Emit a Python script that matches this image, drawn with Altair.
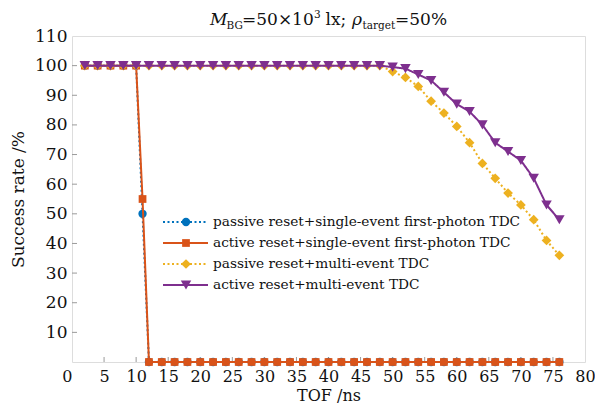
import altair as alt
import pandas as pd

# ---------------- data ----------------
tof_single = [2, 4, 6, 8, 10, 11, 12, 14, 16, 18, 20, 22, 24, 26, 28, 30, 32, 34, 36, 38,
              40, 42, 44, 46, 48, 50, 52, 54, 56, 58, 60, 62, 64, 66, 68, 70, 72, 74, 76]
passive_single = [100, 100, 100, 100, 100, 50, 0, 0, 0, 0, 0, 0, 0, 0, 0, 0, 0, 0, 0, 0,
                  0, 0, 0, 0, 0, 0, 0, 0, 0, 0, 0, 0, 0, 0, 0, 0, 0, 0, 0]
active_single = [100, 100, 100, 100, 100, 55, 0, 0, 0, 0, 0, 0, 0, 0, 0, 0, 0, 0, 0, 0,
                 0, 0, 0, 0, 0, 0, 0, 0, 0, 0, 0, 0, 0, 0, 0, 0, 0, 0, 0]

tof_multi = [2, 4, 6, 8, 10, 12, 14, 16, 18, 20, 22, 24, 26, 28, 30, 32, 34, 36, 38,
             40, 42, 44, 46, 48, 50, 52, 54, 56, 58, 60, 62, 64, 66, 68, 70, 72, 74, 76]
passive_multi = [100, 100, 100, 100, 100, 100, 100, 100, 100, 100, 100, 100, 100, 100, 100,
                 100, 100, 100, 100, 100, 100, 100, 100, 100, 98, 96, 93, 88, 84, 79.5,
                 74, 67, 62, 57, 53, 48, 41, 36]
active_multi = [100, 100, 100, 100, 100, 100, 100, 100, 100, 100, 100, 100, 100, 100, 100,
                100, 100, 100, 100, 100, 100, 100, 100, 100, 99.5, 99, 97, 95, 91, 87,
                84.5, 80, 74, 71, 68, 62, 53, 48]

series_names = [
    "passive reset+single-event first-photon TDC",
    "active reset+single-event first-photon TDC",
    "passive reset+multi-event TDC",
    "active reset+multi-event TDC",
]
series_x = [tof_single, tof_single, tof_multi, tof_multi]
series_y = [passive_single, active_single, passive_multi, active_multi]

x_tick_values = [0, 5, 10, 15, 20, 25, 30, 35, 40, 45, 50, 55, 60, 65, 70, 75, 80]
y_tick_values = [0, 10, 20, 30, 40, 50, 60, 70, 80, 90, 100, 110]

# ---------------- styles ----------------
colors = ["#0072BD", "#D95319", "#EDB120", "#7E2F8E"]
shapes = ["circle", "square", "diamond", "triangle-down"]
dashes = [[2, 2.5], [1, 0], [2, 2.5], [1, 0]]
sizes = [70, 60, 95, 110]

FONT = "DejaVu Serif"
GRAY = "#9a9a9a"
W, H = 513, 326

xscale = alt.Scale(domain=[0, 80], nice=False, zero=False)
yscale = alt.Scale(domain=[0, 110], nice=False)

xaxis = alt.Axis(values=x_tick_values, grid=False, ticks=False, domain=False,
                 labelFont=FONT, labelFontSize=16, labelColor="#111", labelPadding=6,
                 labelAlign={"expr": "datum.value == 0 ? 'right' : 'center'"},
                 title="TOF /ns", titleFont=FONT, titleFontSize=16,
                 titleFontWeight="normal", titleColor="#111", titlePadding=3)
yaxis = alt.Axis(values=y_tick_values, grid=False, ticks=False, domain=False,
                 labelFont=FONT, labelFontSize=17, labelColor="#111", labelPadding=5,
                 labelExpr="datum.value == 0 ? '' : datum.label",
                 title="Success rate /%", titleFont=FONT, titleFontSize=17,
                 titleFontWeight="normal", titleColor="#111", titlePadding=7)


def X(field):
    return alt.X(field, type="quantitative", scale=xscale, axis=xaxis)


def Y(field):
    return alt.Y(field, type="quantitative", scale=yscale, axis=yaxis)


layers = []

# inward tick marks
ytk = pd.DataFrame({"v": y_tick_values[1:-1]})
xtk = pd.DataFrame({"v": x_tick_values[1:-1]})
layers.append(alt.Chart(ytk).mark_rule(color=GRAY, strokeWidth=1).encode(
    y=Y("v"), x=alt.value(0), x2=alt.value(5)))
layers.append(alt.Chart(xtk).mark_rule(color=GRAY, strokeWidth=1).encode(
    x=X("v"), y=alt.value(H), y2=alt.value(H - 5)))

# data series
for i in range(4):
    df = pd.DataFrame({"tof": series_x[i], "rate": series_y[i]})
    base = alt.Chart(df)
    layers.append(base.mark_line(color=colors[i], strokeWidth=2,
                                 strokeDash=dashes[i]).encode(x=X("tof"), y=Y("rate")))
    layers.append(base.mark_point(color=colors[i], shape=shapes[i], filled=True,
                                  opacity=1, size=sizes[i]).encode(x=X("tof"), y=Y("rate")))

# manual legend
leg_x0, leg_x1, leg_mark, leg_text = 91, 136, 114, 141
for i in range(4):
    ry = 186 + 21 * i
    one = pd.DataFrame({"name": [series_names[i]]})
    b = alt.Chart(one)
    layers.append(b.mark_rule(color=colors[i], strokeWidth=2, strokeDash=dashes[i]).encode(
        x=alt.value(leg_x0), x2=alt.value(leg_x1), y=alt.value(ry)))
    layers.append(b.mark_point(color=colors[i], shape=shapes[i], filled=True, opacity=1,
                               size=sizes[i]).encode(x=alt.value(leg_mark), y=alt.value(ry)))
    layers.append(b.mark_text(align="left", baseline="middle", font=FONT, fontSize=13.7,
                              color="#111").encode(
        x=alt.value(leg_text), y=alt.value(ry), text="name:N"))

# title with sub/superscripts: (text, size, style, advance width, dy, gap before)
pieces = [
    ("M", 17, "italic", 16.5, 0, 0),
    ("BG", 10.5, "normal", 15.5, 4, 0),
    ("=50×10", 17, "normal", 72.0, 0, 0),
    ("3", 10.5, "normal", 6.5, -7, 0),
    ("lx;", 17, "normal", 21.5, 0, 5),
    ("ρ", 17, "italic", 10.5, 0, 5),
    ("target", 10.5, "normal", 32.5, 4, 0),
    ("=50%", 17, "normal", 52.0, 0, 0),
]
total = sum(p[3] + p[5] for p in pieces)
cx = W / 2 - total / 2
base_y = -11
for txt, fs, style, wdt, dy, gap in pieces:
    cx += gap
    d = pd.DataFrame({"t": [txt]})
    layers.append(alt.Chart(d).mark_text(align="left", baseline="alphabetic", font=FONT,
                                         fontSize=fs, fontStyle=style, color="#111").encode(
        x=alt.value(cx), y=alt.value(base_y + dy), text="t:N"))
    cx += wdt

chart = alt.layer(*layers).properties(
    width=W, height=H,
    autosize=alt.AutoSizeParams(type="none"),
    padding={"left": 64, "top": 28, "right": 10, "bottom": 41},
).configure_view(stroke=GRAY, strokeWidth=1.5).configure(background="white")

chart.save("out.html", embed_options={"renderer": "svg", "actions": False})
